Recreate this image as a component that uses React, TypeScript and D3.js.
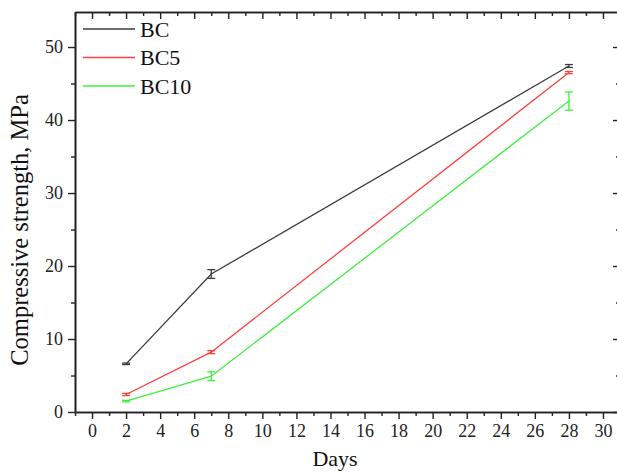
import React, { useEffect, useRef } from 'react';
import * as d3 from 'd3';

const days = [2, 7, 28];
const seriesNames = ['BC', 'BC5', 'BC10'];
const bcValues = [6.6, 18.9, 47.4];
const bcErrors = [0.1, 0.6, 0.2];
const bc5Values = [2.4, 8.2, 46.5];
const bc5Errors = [0.15, 0.2, 0.15];
const bc10Values = [1.5, 4.9, 42.6];
const bc10Errors = [0.1, 0.6, 1.25];
const seriesColors = ['#3c3c3c', '#ff4040', '#3ef03e'];
const xTicks = d3.range(0, 31, 2);
const yTicks = [0, 10, 20, 30, 40, 50];

export default function App() {
  const svgRef = useRef<SVGSVGElement | null>(null);

  useEffect(() => {
    const width = 617, height = 472;
    const left = 75, right = 620, top = 12, bottom = 412;
    const font = "'Liberation Serif', 'Times New Roman', serif";

    const x = d3.scaleLinear().domain([-1, 31]).range([left, right]);
    const y = d3.scaleLinear().domain([0, 54.8]).range([bottom, top]);

    const svg = d3.select(svgRef.current);
    svg.selectAll('*').remove();
    svg.attr('width', width).attr('height', height);

    const series = [
      { name: seriesNames[0], values: bcValues, errors: bcErrors, color: seriesColors[0] },
      { name: seriesNames[1], values: bc5Values, errors: bc5Errors, color: seriesColors[1] },
      { name: seriesNames[2], values: bc10Values, errors: bc10Errors, color: seriesColors[2] },
    ];

    // lines + error bars
    const line = d3.line<number>().x((_, i) => x(days[i])).y(d => y(d));
    series.forEach(s => {
      svg.append('path').attr('d', line(s.values)).attr('fill', 'none')
        .attr('stroke', s.color).attr('stroke-width', 1.3);
      const g = svg.append('g').attr('stroke', s.color).attr('stroke-width', 1.3);
      s.values.forEach((v, i) => {
        const cx = x(days[i]);
        const y1 = y(v + s.errors[i]), y2 = y(v - s.errors[i]);
        g.append('line').attr('x1', cx).attr('x2', cx).attr('y1', y1).attr('y2', y2);
        g.append('line').attr('x1', cx - 4).attr('x2', cx + 4).attr('y1', y1).attr('y2', y1);
        g.append('line').attr('x1', cx - 4).attr('x2', cx + 4).attr('y1', y2).attr('y2', y2);
      });
    });

    // axes
    const minorX = d3.range(-1, 31, 1).filter(d => d % 2 !== 0);
    const minorY = [5, 15, 25, 35, 45];

    const xAxis = svg.append('g').attr('transform', `translate(0,${bottom})`)
      .call(d3.axisBottom(x).tickValues(xTicks).tickSize(7).tickPadding(5).tickSizeOuter(0));
    svg.append('g').attr('transform', `translate(0,${bottom})`)
      .call(d3.axisBottom(x).tickValues(minorX).tickSize(4).tickFormat(() => '').tickSizeOuter(0));

    const yAxis = svg.append('g').attr('transform', `translate(${left},0)`)
      .call(d3.axisLeft(y).tickValues(yTicks).tickSize(7).tickPadding(5).tickSizeOuter(0));
    svg.append('g').attr('transform', `translate(${left},0)`)
      .call(d3.axisLeft(y).tickValues(minorY).tickSize(4).tickFormat(() => '').tickSizeOuter(0));

    [xAxis, yAxis].forEach(a => {
      a.selectAll('text')
        .style('font-family', font)
        .style('font-size', '18px')
        .style('fill', '#222');
    });

    svg.append('g').attr('transform', `translate(0,${top})`)
      .call(d3.axisBottom(x).tickValues(xTicks).tickSize(7).tickFormat(() => '').tickSizeOuter(0));
    svg.append('g').attr('transform', `translate(0,${top})`)
      .call(d3.axisBottom(x).tickValues(minorX).tickSize(4).tickFormat(() => '').tickSizeOuter(0));

    svg.append('g').attr('transform', `translate(${right},0)`)
      .call(d3.axisLeft(y).tickValues(yTicks).tickSize(7).tickFormat(() => '').tickSizeOuter(0));
    svg.append('g').attr('transform', `translate(${right},0)`)
      .call(d3.axisLeft(y).tickValues(minorY).tickSize(4).tickFormat(() => '').tickSizeOuter(0));

    svg.selectAll('.domain').attr('stroke', '#222').attr('stroke-width', 1.6);
    svg.selectAll('.tick line').attr('stroke', '#222').attr('stroke-width', 1.4);

    // axis titles
    svg.append('text').attr('x', 335).attr('y', 466)
      .attr('text-anchor', 'middle').style('font-family', font).style('font-size', '22px').attr('fill', '#111')
      .text('Days');
    svg.append('text').attr('transform', `translate(28,230) rotate(-90)`)
      .attr('text-anchor', 'middle').style('font-family', font).style('font-size', '24.5px').attr('fill', '#111')
      .text('Compressive strength, MPa');

    // legend
    series.forEach((s, i) => {
      const ly = 29 + i * 28.5;
      svg.append('line').attr('x1', 83).attr('x2', 135).attr('y1', ly).attr('y2', ly)
        .attr('stroke', s.color).attr('stroke-width', 1.3);
      svg.append('text').attr('x', 140).attr('y', ly + 7.5).style('font-family', font)
        .style('font-size', '22px').attr('fill', '#111').text(s.name);
    });
  }, []);

  return <svg ref={svgRef} style={{ position: 'absolute', left: 0, top: 0 }} />;
}
